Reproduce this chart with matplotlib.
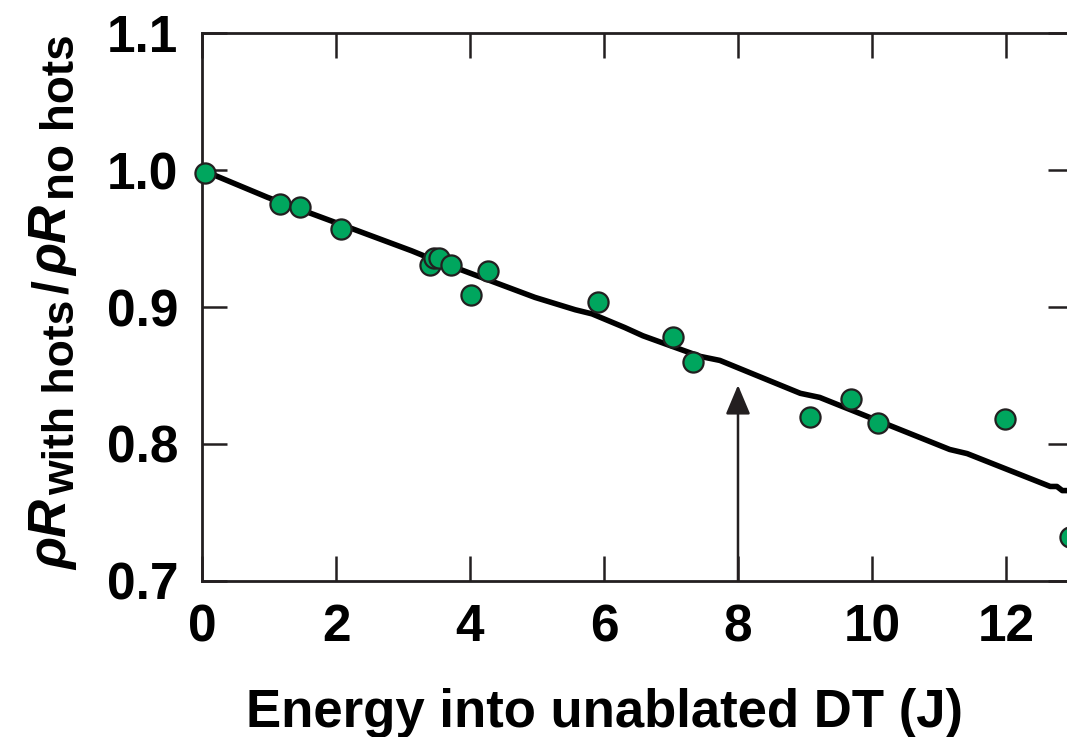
import numpy as np
import matplotlib
matplotlib.use('Agg')
import matplotlib.pyplot as plt

plt.rcParams['font.family'] = ['Liberation Sans', 'DejaVu Sans']
plt.rcParams['font.weight'] = 'bold'

# simulated points
energy = [0.05, 1.16, 1.46, 2.07, 3.40, 3.46, 3.53, 3.72, 4.01, 4.27,
          5.91, 7.03, 7.33, 9.07, 9.69, 10.09, 11.99, 12.96]
ratio = [0.998, 0.975, 0.973, 0.957, 0.931, 0.936, 0.936, 0.931, 0.909, 0.926,
         0.904, 0.878, 0.860, 0.820, 0.833, 0.815, 0.818, 0.732]

# fit curve
fit_energy = [0.0, 0.98, 2.03, 3.13, 3.33, 4.97, 5.57, 5.82, 6.31, 6.58,
              7.43, 7.73, 8.93, 9.22, 11.16, 11.42, 12.66, 12.76, 12.84, 13.0]
fit_ratio = [1.000, 0.980, 0.961, 0.941, 0.937, 0.907, 0.898, 0.895, 0.885, 0.879,
             0.864, 0.861, 0.837, 0.834, 0.796, 0.793, 0.769, 0.769, 0.766, 0.766]

arrow_x = 8.0
arrow_tip = 0.843

x_ticks = [0, 2, 4, 6, 8, 10, 12]
y_ticks = [0.7, 0.8, 0.9, 1.0, 1.1]
y_tick_labels = ['0.7', '0.8', '0.9', '1.0', '1.1']

# y label pieces: text, size, italic, subscript
ylabel_parts = [('ρR', 38, True, False), ('with hots', 32, False, True),
                ('/', 36, False, False),
                ('ρR', 38, True, False), ('no hots', 33, False, True)]

ink = '#231f20'
green = '#00a65e'
W, H = 1067, 737

fig = plt.figure(figsize=(W / 100, H / 100), dpi=100)
ax = fig.add_axes([202 / W, 156 / H, 871 / W, 548 / H])

ax.plot(fit_energy, fit_ratio, color='black', lw=4.0, solid_capstyle='round', zorder=3)
ax.plot(energy, ratio, 'o', ms=14.5, mfc=green, mec=ink, mew=1.6, zorder=4, clip_on=False)

ax.annotate('', xy=(arrow_x, arrow_tip), xytext=(arrow_x, 0.7),
            arrowprops=dict(arrowstyle='-|>,head_length=1.0,head_width=0.42',
                            mutation_scale=18, color=ink, lw=1.8,
                            shrinkA=0, shrinkB=0), zorder=2)

ax.set_xlim(0, 13)
ax.set_ylim(0.7, 1.1)
ax.set_xticks(x_ticks)
ax.set_yticks(y_ticks)
ax.set_yticklabels(y_tick_labels)

for s in ax.spines.values():
    s.set_linewidth(2.0)
    s.set_color(ink)
ax.tick_params(direction='in', length=18, width=1.8, color=ink,
               top=True, right=True, labelsize=37)
ax.tick_params(axis='x', pad=16)
ax.tick_params(axis='y', pad=17)

ax.set_xlabel('Energy into unablated DT (J)', fontsize=38, fontweight='bold')
ax.xaxis.set_label_coords((605 - 202) / 871, (581 - 727) / 548)
ax.xaxis.label.set_verticalalignment('baseline')

# y label built from pieces, rotated, so the subscripts can be sized freely
renderer = fig.canvas.get_renderer()
base_x = 67      # baseline of the main letters, pixels from left
pos_y = H - 570  # start of the label, pixels from bottom
for txt, size, italic, sub in ylabel_parts:
    x = base_x + (7 if sub else 0)
    t = fig.text(x / W, pos_y / H, txt, rotation=90, rotation_mode='anchor',
                 ha='left', va='baseline', fontsize=size, fontweight='bold',
                 fontstyle='italic' if italic else 'normal')
    pos_y += t.get_window_extent(renderer).height + 5

fig.savefig('out.png', dpi=100)
